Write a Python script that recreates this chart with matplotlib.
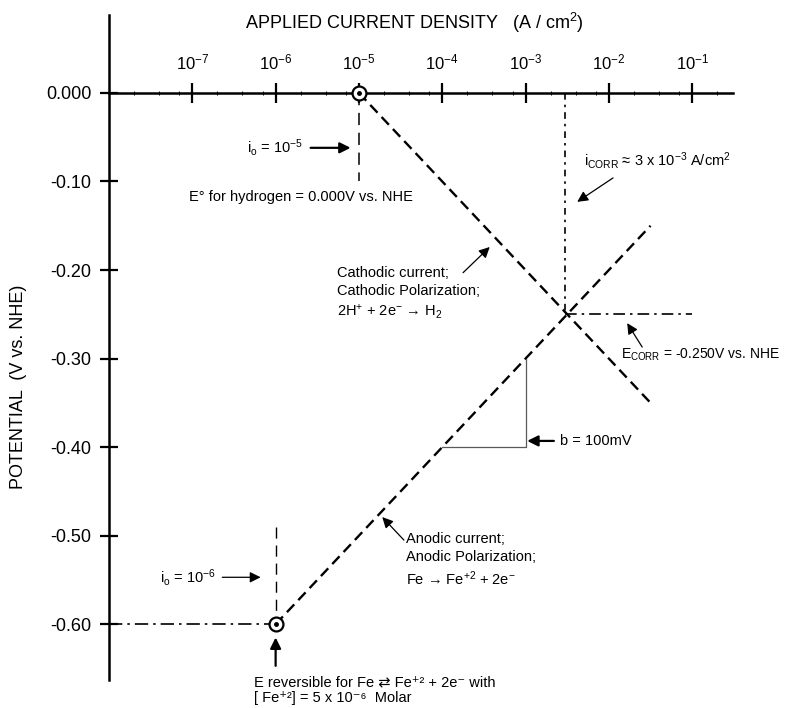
import numpy as np
import matplotlib
matplotlib.use('Agg')
import matplotlib.pyplot as plt
from matplotlib.ticker import FixedLocator, FixedFormatter, LogLocator, NullFormatter

plt.rcParams['font.family'] = ['Liberation Sans', 'DejaVu Sans']
plt.rcParams['mathtext.fontset'] = 'custom'
plt.rcParams['mathtext.rm'] = 'Liberation Sans'
plt.rcParams['mathtext.it'] = 'Liberation Sans'
plt.rcParams['axes.unicode_minus'] = False

# axis ticks
x_ticks = [1e-7, 1e-6, 1e-5, 1e-4, 1e-3, 1e-2, 1e-1]
x_labels = [r'$\mathregular{10^{-7}}$', r'$\mathregular{10^{-6}}$', r'$\mathregular{10^{-5}}$',
            r'$\mathregular{10^{-4}}$', r'$\mathregular{10^{-3}}$', r'$\mathregular{10^{-2}}$',
            r'$\mathregular{10^{-1}}$']
y_ticks = [0.0, -0.10, -0.20, -0.30, -0.40, -0.50, -0.60]
y_labels = ['0.000', '-0.10', '-0.20', '-0.30', '-0.40', '-0.50', '-0.60']

# Tafel lines (current density A/cm2, potential V vs NHE)
cath_i = [1e-5, 10**-1.5]
cath_E = [0.0, -0.35]
anod_i = [1e-6, 10**-1.5]
anod_E = [-0.60, -0.15]
io_H = 1e-5
io_Fe = 1e-6
E_H = 0.0
E_Fe = -0.60
i_corr = 3e-3
E_corr = -0.25
# slope triangle, b = 100 mV
tri_i = [1e-4, 1e-3, 1e-3]
tri_E = [-0.40, -0.40, -0.30]

fig = plt.figure(figsize=(7.87, 7.08), dpi=100)
ax = fig.add_axes([109/787, 28/708, 624/787, 665/708])
ax.set_xscale('log')
ax.set_xlim(1e-8, 10**-0.51)
ax.set_ylim(-0.663, 0.088)

for s in ['bottom', 'right']:
    ax.spines[s].set_visible(False)
ax.spines['top'].set_position(('data', 0))
ax.spines['top'].set_linewidth(1.8)
ax.spines['left'].set_linewidth(1.8)
ax.xaxis.set_ticks_position('top')
ax.xaxis.set_major_locator(FixedLocator(x_ticks))
ax.xaxis.set_major_formatter(FixedFormatter(x_labels))
ax.xaxis.set_minor_locator(LogLocator(base=10, subs=[2, 4, 7]))
ax.xaxis.set_minor_formatter(NullFormatter())
ax.tick_params(axis='x', which='major', direction='inout', length=14, width=1.6,
               pad=8, labelsize=12)
ax.tick_params(axis='x', which='minor', direction='inout', length=3, width=0.7)
ax.yaxis.set_major_locator(FixedLocator(y_ticks))
ax.yaxis.set_major_formatter(FixedFormatter(y_labels))
ax.tick_params(axis='y', which='major', direction='inout', length=13, width=1.6,
               pad=6, labelsize=13)

# Tafel lines
ax.plot(cath_i, cath_E, color='k', lw=1.7, dashes=(4.5, 2.5))
ax.plot(anod_i, anod_E, color='k', lw=1.7, dashes=(4.5, 2.5))
ax.plot(tri_i, tri_E, color='0.35', lw=0.9)

# exchange current markers
ax.plot([io_H, io_H], [E_H, -0.10], color='k', lw=1.1, dashes=(8, 5))
ax.plot([io_Fe, io_Fe], [-0.49, E_Fe], color='k', lw=1.0, dashes=(8, 5))
ax.plot([1e-8, io_Fe], [E_Fe, E_Fe], color='k', lw=1.2, dashes=(8, 3, 1.5, 3))

# corrosion point lines
ax.plot([i_corr, i_corr], [0, E_corr], color='k', lw=1.2, dashes=(4, 3, 1.5, 3))
ax.plot([i_corr, 1e-1], [E_corr, E_corr], color='k', lw=1.2, dashes=(7, 3, 1.5, 3))

for xi, yi in [(io_H, E_H), (io_Fe, E_Fe)]:
    ax.plot(xi, yi, 'o', ms=10, mfc='white', mec='k', mew=1.6, zorder=5, clip_on=False)
    ax.plot(xi, yi, 'o', ms=2.5, color='k', zorder=6, clip_on=False)

fs = 10.5
arr = dict(arrowstyle='-|>', color='k', lw=1.6, mutation_scale=16, shrinkA=0, shrinkB=0)
arr_thin = dict(arrowstyle='-|>', color='k', lw=0.9, mutation_scale=16, shrinkA=0, shrinkB=0)

def L(p):
    return 10**p

ax.text(L(-6.34), -0.062, r'i$_\mathregular{o}$ = 10$^\mathregular{-5}$', fontsize=fs, va='center')
ax.annotate('', xy=(L(-5.1), -0.062), xytext=(L(-5.58), -0.062), arrowprops=arr)
ax.text(L(-7.04), -0.1175, 'E° for hydrogen = 0.000V vs. NHE', fontsize=fs, va='center')

ax.text(L(-2.30), -0.076, r'i$_\mathregular{CORR}$ ≈ 3 x 10$^\mathregular{-3}$ A/cm$^\mathregular{2}$',
        fontsize=fs, va='center')
ax.annotate('', xy=(L(-2.38), -0.123), xytext=(L(-1.95), -0.096), arrowprops=arr_thin)

ax.text(L(-5.26), -0.196, 'Cathodic current;\nCathodic Polarization;\n' +
        r'2H$^\mathregular{+}$ + 2e$^\mathregular{-}$ → H$_\mathregular{2}$',
        fontsize=fs, va='top', linespacing=1.35)
ax.annotate('', xy=(L(-3.43), -0.174), xytext=(L(-3.75), -0.203), arrowprops=arr_thin)

ax.text(L(-1.86), -0.296, r'E$_\mathregular{CORR}$ = -0.250V vs. NHE', fontsize=10, va='center')
ax.annotate('', xy=(L(-1.78), -0.26), xytext=(L(-1.60), -0.287), arrowprops=arr_thin)

ax.text(L(-2.59), -0.393, 'b = 100mV', fontsize=fs, va='center')
ax.annotate('', xy=(L(-2.98), -0.393), xytext=(L(-2.66), -0.393), arrowprops=arr)

ax.text(L(-4.43), -0.496, 'Anodic current;\nAnodic Polarization;\n' +
        r'Fe → Fe$^\mathregular{+2}$ + 2e$^\mathregular{-}$',
        fontsize=fs, va='top', linespacing=1.35)
ax.annotate('', xy=(L(-4.72), -0.479), xytext=(L(-4.46), -0.505), arrowprops=arr_thin)

ax.text(L(-7.39), -0.547, r'i$_\mathregular{o}$ = 10$^\mathregular{-6}$', fontsize=fs, va='center')
ax.annotate('', xy=(L(-6.18), -0.547), xytext=(L(-6.64), -0.547), arrowprops=arr_thin)

ax.annotate('', xy=(io_Fe, -0.615), xytext=(io_Fe, -0.647), arrowprops=arr, annotation_clip=False)
ax.text(L(-6.26), -0.6655, 'E reversible for Fe ⇄ Fe⁺² + 2e⁻ with', fontsize=fs, va='center')
ax.text(L(-6.26), -0.6836, '[ Fe⁺²] = 5 x 10⁻⁶  Molar', fontsize=fs, va='center')

fig.text(0.527, 0.9675, 'APPLIED CURRENT DENSITY   (A / cm$^\\mathregular{2}$)', fontsize=13,
         ha='center', va='center')
fig.text(0.023, 0.453, 'POTENTIAL  (V vs. NHE)', fontsize=13, rotation=90,
         ha='center', va='center')

plt.savefig('out.png', dpi=100)
